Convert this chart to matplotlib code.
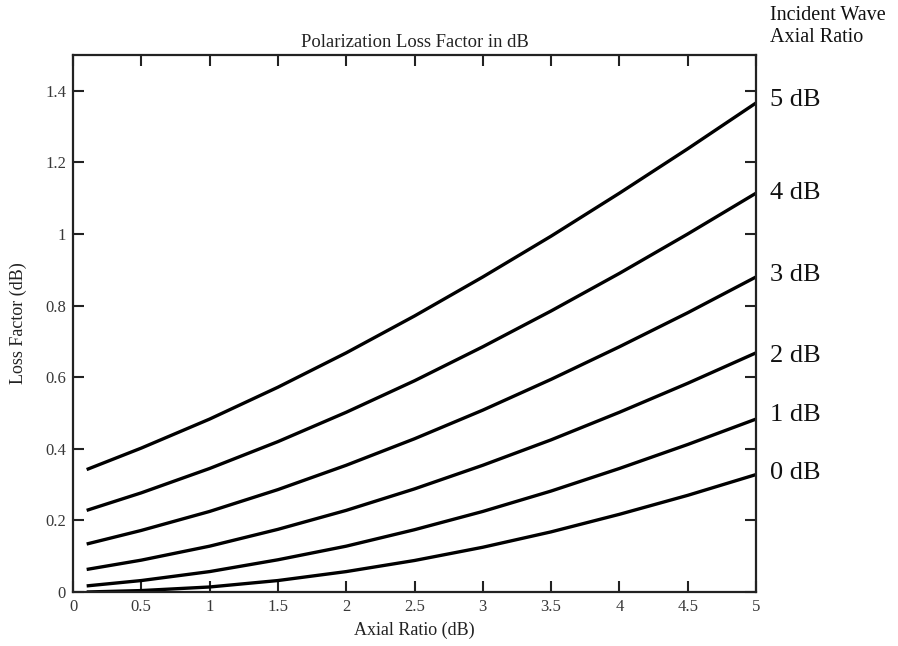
import matplotlib
matplotlib.use("Agg")
import matplotlib.pyplot as plt

plt.rcParams['font.family'] = ['Liberation Serif', 'DejaVu Serif']

# Axial ratio of receiving antenna (dB)
axial_ratio = [0.1, 0.5, 1.0, 1.5, 2.0, 2.5, 3.0, 3.5, 4.0, 4.5, 5.0]

# Loss factor (dB) for each incident-wave axial ratio
loss_0db = [0.000, 0.004, 0.014, 0.032, 0.057, 0.088, 0.125, 0.168, 0.217, 0.270, 0.328]
loss_1db = [0.017, 0.032, 0.057, 0.090, 0.128, 0.174, 0.225, 0.282, 0.345, 0.412, 0.483]
loss_2db = [0.063, 0.089, 0.128, 0.175, 0.228, 0.288, 0.354, 0.425, 0.502, 0.583, 0.668]
loss_3db = [0.134, 0.172, 0.225, 0.286, 0.354, 0.428, 0.508, 0.594, 0.685, 0.780, 0.880]
loss_4db = [0.228, 0.277, 0.345, 0.420, 0.502, 0.590, 0.685, 0.785, 0.890, 1.000, 1.114]
loss_5db = [0.342, 0.402, 0.483, 0.572, 0.668, 0.771, 0.880, 0.994, 1.114, 1.238, 1.366]

series = [loss_0db, loss_1db, loss_2db, loss_3db, loss_4db, loss_5db]
series_labels = ["0 dB", "1 dB", "2 dB", "3 dB", "4 dB", "5 dB"]
# vertical position (in loss-factor units) of each curve label at the right edge
label_y = [0.341, 0.503, 0.668, 0.894, 1.123, 1.383]

x_ticks = [0, 0.5, 1, 1.5, 2, 2.5, 3, 3.5, 4, 4.5, 5]
x_tick_labels = ["0", "0.5", "1", "1.5", "2", "2.5", "3", "3.5", "4", "4.5", "5"]
y_ticks = [0, 0.2, 0.4, 0.6, 0.8, 1.0, 1.2, 1.4]
y_tick_labels = ["0", "0.2", "0.4", "0.6", "0.8", "1", "1.2", "1.4"]

fig = plt.figure(figsize=(8.98, 6.46), dpi=100)
ax = fig.add_axes([73/898, 1-592/646, (756-73)/898, (592-55)/646])

for vals, lab, ly in zip(series, series_labels, label_y):
    ax.plot(axial_ratio, vals, color='black', lw=2.4, solid_capstyle='butt')
    ax.annotate(lab, xy=(axial_ratio[-1], ly), xytext=(10, -2.5),
                textcoords='offset points', va='center', ha='left',
                fontsize=19, color='#111111', annotation_clip=False)

ax.set_xlim(0, 5)
ax.set_ylim(0, 1.5)
ax.set_xticks(x_ticks)
ax.set_xticklabels(x_tick_labels)
ax.set_yticks(y_ticks)
ax.set_yticklabels(y_tick_labels)
ax.tick_params(direction='in', length=8, width=1.5, top=True, right=True,
               labelsize=12, labelcolor='#383838', color='#222222', pad=5)

for sp in ax.spines.values():
    sp.set_linewidth(1.6)
    sp.set_color('#222222')

ax.set_title("Polarization Loss Factor in dB", fontsize=13.4, color='#222222', pad=6)
ax.set_xlabel("Axial Ratio (dB)", fontsize=13, color='#222222', labelpad=5)
ax.set_ylabel("Loss Factor (dB)", fontsize=13, color='#222222', labelpad=13)

fig.text(770/898, 1-15/646, "Incident Wave", fontsize=14.5, va='center', ha='left', color='#111111')
fig.text(770/898, 1-37/646, "Axial Ratio", fontsize=14.5, va='center', ha='left', color='#111111')

fig.savefig("out.png", dpi=100)
